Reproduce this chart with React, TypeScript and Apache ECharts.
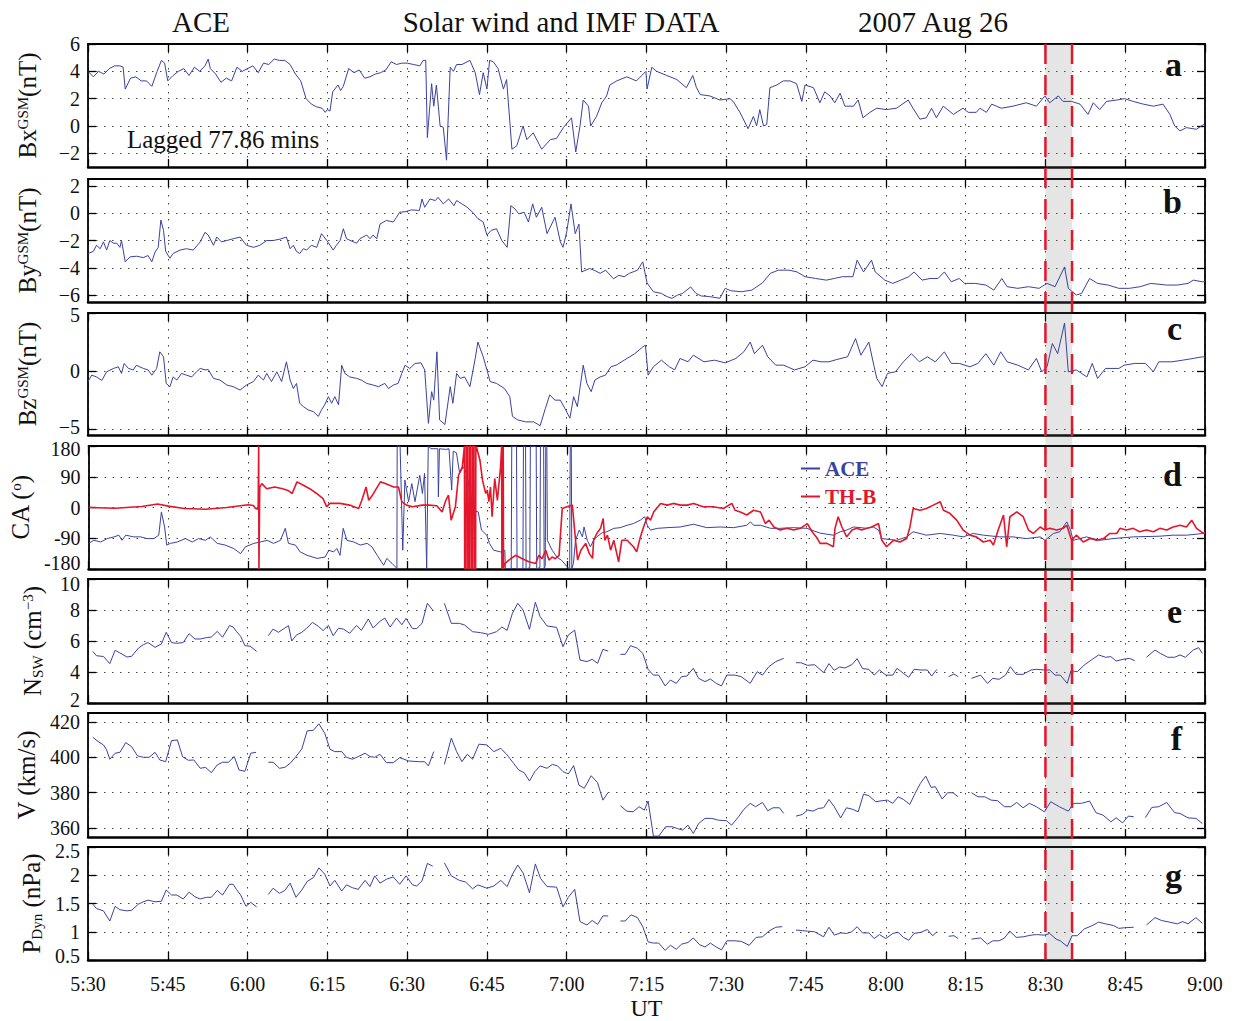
import React, { useEffect, useRef } from "react";
import * as echarts from "echarts";

const FONT = '"Liberation Serif", "Times New Roman", Times, serif';
const BLUE = "#3a42a0";
const RED = "#e3162b";
const INK = "#111111";

// x axis: minutes after 05:30 UT
const X_MIN = 0;
const X_MAX = 210;
const X_STEP = 15;
const shadedInterval = [180, 185]; // 08:30 - 08:35 UT

// tick values
const bxTicks = [-2, 0, 2, 4, 6];
const byTicks = [-6, -4, -2, 0, 2];
const bzTicks = [-5, 0, 5];
const caTicks = [-180, -90, 0, 90, 180];
const nTicks = [2, 4, 6, 8, 10];
const vTicks = [360, 380, 400, 420];
const pTicks = [0.5, 1, 1.5, 2, 2.5];

// ---- data: [minutes after 05:30, value] ----
const bxData = [[0,4.0],[1,3.6],[2,4.0],[3,3.8],[4,4.2],[5,4.4],[6,4.4],[6.6,4.3],[7,2.7],[8,3.5],[9,3.6],[10,3.3],[11,3.3],[12,2.9],[13,4.0],[13.8,4.8],[14.4,4.6],[15,3.3],[16,3.7],[17,4.0],[18,4.2],[19,3.7],[20,4.3],[21,4.0],[22,4.4],[22.6,4.9],[23,4.2],[24,3.8],[25,3.2],[26,3.5],[27,3.3],[28,4.3],[29,4.0],[30,4.2],[31,4.4],[32,3.9],[33,4.6],[34,4.5],[35,4.9],[36,4.8],[37,4.8],[38,4.5],[39,3.8],[40,3.3],[41,2.0],[42,1.6],[43,1.4],[44,1.3],[44.6,1.0],[45,1.2],[45.5,1.1],[46,2.5],[47,3.0],[47.5,2.6],[48,2.9],[49,4.2],[50,3.9],[51,4.1],[52,3.5],[53,3.6],[54,3.8],[55,3.9],[56,4.1],[57,4.7],[58,4.5],[59,4.6],[60,4.6],[61.2,4.5],[62.4,4.4],[63.0,4.8],[63.5,4.8],[63.8,-0.85],[64.6,3.1],[65.0,1.45],[65.5,3.0],[66.2,0],[66.8,-0.1],[67.4,-2.5],[68.1,4.3],[68.7,4.0],[69.3,4.5],[70.3,4.5],[71.8,4.8],[72.8,3.9],[73.6,2.3],[74.3,3.9],[75.0,2.7],[75.5,4.8],[76.2,4.7],[77.1,4.2],[78.1,2.7],[78.7,3.4],[79.7,-1.7],[80.6,-1.45],[81.8,0],[82.5,-1.0],[83.7,-0.5],[85.3,-1.7],[86.9,-1.0],[88.1,-0.9],[89.4,-0.1],[90.9,0.6],[91.7,-1.9],[92.5,0],[93.1,1.9],[94.1,1.45],[94.5,0],[95.6,0.7],[96.6,1.7],[97.5,2.2],[98.1,3.0],[99.4,3.3],[101.3,3.6],[103.1,3.3],[104.9,4.0],[105.1,2.7],[106.0,4.3],[106.9,4.0],[108.8,3.7],[110.7,3.4],[112.5,2.8],[113.7,3.7],[114.4,2.8],[115.1,2.3],[116.9,2.2],[118.8,1.9],[120.7,2.0],[121.3,1.8],[122.6,0.97],[124.1,-0.2],[125.1,0.7],[125.7,0],[126.3,1.2],[127.0,0],[127.6,0.1],[128.2,2.8],[129.5,3.0],[130.7,3.3],[132.0,3.3],[133.2,3.1],[134.2,1.8],[134.8,3.0],[136.4,2.8],[137.6,1.7],[138.5,2.5],[139.5,2.2],[140.4,1.7],[141.4,2.4],[142.3,1.45],[143.9,1.45],[144.8,1.9],[145.7,0.6],[147.0,1.0],[148.3,1.3],[150.1,1.2],[152.0,1.3],[154.2,1.9],[155.1,1.3],[156.4,0.5],[157.6,0.6],[158.6,1.3],[159.5,0.6],[160.8,1.45],[162.7,0.85],[164.5,1.3],[165.5,1.0],[167.0,1.0],[167.7,1.3],[168.9,1.0],[169.9,1.6],[171.7,1.3],[173.9,1.45],[176.4,1.7],[178.3,1.45],[179.9,2.2],[180.8,1.7],[182.4,2.2],[183.3,1.8],[184.9,1.8],[186.5,1.6],[188.0,0.85],[189.0,1.7],[190.2,1.2],[191.5,1.8],[193.4,1.9],[194.9,2.0],[196.5,1.8],[198.4,1.6],[200.3,1.45],[202.1,1.6],[203.4,0.85],[204.3,0],[205.3,-0.36],[206.5,-0.12],[208.4,-0.24],[209.7,0.1],[210,0]];

const byData = [[0,-2.95],[1.0,-2.8],[1.6,-2.35],[2.3,-2.6],[2.9,-2.1],[3.5,-2.7],[4.1,-2.0],[4.8,-2.2],[5.4,-2.2],[6.0,-2.5],[6.3,-2.0],[7.0,-3.56],[7.9,-3.2],[9.1,-3.15],[10.4,-3.25],[11.3,-3.1],[12.0,-3.56],[12.6,-2.85],[13.2,-2.5],[13.7,-0.5],[14.2,-1.26],[14.6,-2.8],[15.4,-3.3],[16.0,-2.95],[17.3,-2.7],[18.5,-2.6],[19.8,-2.7],[21.1,-2.1],[22.0,-1.4],[22.6,-1.6],[23.6,-2.35],[24.2,-1.75],[25.1,-2.1],[26.1,-2.0],[27.3,-1.87],[28.6,-1.75],[29.8,-2.35],[31.1,-2.5],[32.3,-2.35],[33.6,-2.0],[34.8,-2.0],[36.1,-1.9],[37.3,-1.75],[38.0,-2.6],[38.6,-2.35],[39.2,-2.8],[39.8,-2.95],[40.5,-2.6],[41.1,-2.7],[42.0,-2.35],[43.0,-2.5],[43.9,-1.5],[44.9,-2.0],[46.1,-2.7],[46.7,-2.35],[47.4,-2.0],[48.0,-1.14],[48.6,-1.87],[49.9,-2.1],[50.5,-2.2],[51.1,-1.87],[52.4,-1.6],[53.0,-1.87],[53.6,-1.6],[54.3,-1.87],[54.9,-0.8],[56.1,-0.53],[57.4,-0.65],[58.0,-0.3],[58.6,0.07],[59.6,0.1],[60.8,0.24],[62.3,0.2],[62.8,1.04],[63.3,0.43],[64.3,1.04],[65.3,0.92],[65.8,1.16],[66.8,0.68],[67.8,1.04],[68.8,0.55],[69.3,0.92],[70.3,0.68],[71.3,0.43],[72.3,0.07],[73.3,-0.4],[74.3,-0.65],[75.0,-1.6],[75.8,-1.26],[76.8,-1.14],[77.8,-2.0],[78.8,-2.5],[79.5,0.55],[80.3,0.3],[81.0,-0.05],[82.0,0.07],[82.8,-0.65],[83.6,0.68],[84.3,-0.3],[85.3,0.43],[86.3,-1.5],[87.8,-0.3],[88.8,-2.1],[89.3,-2.5],[90.0,-1.38],[90.8,0.68],[91.6,-1.5],[92.3,-0.8],[92.8,-4.3],[94.3,-4.05],[95.3,-4.2],[96.3,-4.4],[97.3,-4.17],[98.8,-4.8],[99.8,-4.55],[100.8,-4.65],[101.8,-4.4],[103.3,-4.17],[104.3,-3.56],[105.1,-5.1],[106.3,-5.75],[107.8,-5.87],[108.8,-6.1],[109.8,-6.23],[110.8,-6.0],[111.8,-5.87],[113.3,-5.4],[114.3,-5.87],[115.3,-6.06],[116.8,-6.1],[118.8,-6.23],[119.8,-5.5],[120.8,-5.67],[122.8,-5.75],[124.8,-5.63],[126.8,-5.1],[128.3,-4.4],[129.8,-4.17],[131.8,-4.17],[133.3,-4.3],[134.8,-4.65],[136.8,-4.78],[138.8,-4.9],[140.3,-4.78],[141.8,-4.65],[143.8,-4.65],[144.6,-3.44],[145.8,-4.3],[147.3,-3.44],[148.0,-4.3],[149.8,-4.9],[151.3,-5.14],[152.8,-4.9],[154.3,-4.65],[155.3,-4.3],[156.8,-4.9],[158.3,-4.78],[159.8,-4.78],[161.0,-4.3],[162.3,-5.02],[163.8,-4.78],[164.8,-5.14],[166.8,-5.14],[168.8,-5.26],[170.3,-5.63],[171.8,-4.78],[172.8,-5.38],[174.8,-5.5],[176.8,-5.38],[178.8,-5.5],[180.3,-5.14],[181.8,-5.38],[183.6,-3.93],[184.3,-5.5],[185.8,-5.99],[186.8,-5.87],[188.3,-4.78],[189.8,-5.14],[191.8,-5.26],[193.8,-5.5],[195.8,-5.5],[197.8,-5.38],[199.8,-5.14],[202.8,-5.26],[204.8,-5.26],[206.8,-5.14],[207.8,-4.9],[209.5,-5.02],[210,-5.0]];

const bzData = [[0,-0.9],[0.7,-0.35],[1.6,-0.5],[2.6,-0.8],[3.5,-0.06],[4.8,0.23],[5.7,0.37],[6.3,-0.2],[6.8,0.66],[7.6,0.23],[8.5,0.1],[9.1,0.5],[10.4,0.23],[11.3,0.1],[12.0,-0.35],[12.9,0.23],[13.5,1.66],[14.2,1.23],[14.7,-1.06],[15.4,-1.34],[16.0,-0.5],[16.7,-0.77],[17.6,-0.2],[18.5,-0.35],[19.5,-0.5],[20.4,-0.06],[21.1,0.23],[22.0,0.1],[22.6,0.14],[23.6,-0.63],[24.8,-0.77],[26.1,-1.2],[27.3,-1.34],[28.6,-1.63],[29.8,-1.2],[31.1,-0.9],[32.0,-0.35],[33.0,-0.77],[33.6,-0.2],[34.5,-0.9],[35.5,-0.06],[36.4,-0.9],[37.3,0.8],[38.0,-0.77],[38.6,-1.5],[39.2,-1.06],[39.8,-2.77],[40.5,-3.06],[41.4,-3.34],[42.4,-3.5],[43.3,-3.9],[43.9,-3.34],[44.5,-2.9],[45.2,-2.2],[45.8,-2.77],[46.4,-2.2],[47.1,-2.9],[47.7,0.5],[48.3,-0.2],[49.2,-0.5],[50.5,-0.63],[51.4,-0.77],[52.4,-1.06],[53.6,-1.2],[54.6,-1.34],[55.8,-1.06],[56.5,-1.5],[57.4,-1.2],[58.3,-1.06],[59.0,-0.2],[59.6,0.5],[60.5,0.23],[61.5,0.66],[62.6,0.71],[63.3,0.1],[64.0,-4.5],[64.6,-1.77],[65.0,-2.5],[65.6,1.66],[66.1,-4.2],[67.1,-4.6],[68.1,-1.34],[68.6,-2.77],[69.3,-0.2],[70.0,-0.63],[70.8,-0.5],[71.8,-1.34],[72.8,1.09],[73.3,2.5],[74.3,1.23],[75.0,0.1],[75.6,-0.9],[76.8,-1.06],[78.3,-1.5],[79.3,-2.2],[79.8,-3.9],[80.8,-4.2],[82.3,-4.37],[83.8,-4.37],[85.0,-4.7],[86.0,-3.2],[86.8,-2.05],[87.8,-2.5],[88.8,-2.5],[89.8,-3.34],[90.6,-4.05],[91.3,-2.2],[92.0,-3.06],[93.1,0.51],[93.8,-1.06],[94.6,-1.77],[95.3,-0.77],[96.3,-0.5],[97.3,-0.35],[98.3,0.37],[99.3,0.51],[100.8,0.94],[102.8,1.5],[104.3,2.08],[104.8,2.23],[105.3,-0.35],[106.3,0.37],[107.8,0.94],[109.3,0.37],[110.3,0.1],[111.3,1.09],[112.8,0.8],[113.8,1.37],[115.8,0.8],[117.8,0.94],[119.8,0.71],[121.8,1.09],[123.3,1.66],[124.5,2.5],[125.3,1.5],[126.8,2.23],[127.8,1.23],[129.3,0.51],[130.8,0.51],[132.8,0.1],[134.8,0.37],[136.3,0.94],[137.8,0.8],[139.3,0.8],[140.8,1.0],[142.8,1.23],[144.3,2.8],[145.3,1.37],[146.8,2.5],[147.8,0.37],[148.3,-0.63],[149.3,-1.34],[150.3,-0.2],[151.8,-0.06],[153.3,0.8],[154.8,1.5],[156.3,0.8],[157.8,1.23],[159.3,0.8],[161.0,1.66],[162.3,0.66],[163.8,0.66],[165.8,0.37],[167.3,0.66],[168.8,1.5],[170.3,0.51],[171.6,1.66],[172.8,0.8],[174.8,0.51],[176.8,0.1],[178.3,1.09],[179.3,-0.06],[180.3,0.37],[181.3,2.37],[182.3,1.5],[183.6,4.14],[184.3,-0.06],[185.8,0.1],[187.8,-0.5],[188.8,0.66],[189.8,-0.63],[191.3,0.23],[193.8,0.23],[194.8,0.51],[196.8,0.66],[198.8,0.66],[200.3,-0.06],[201.3,0.8],[203.8,0.8],[205.8,0.94],[207.8,1.09],[209.5,1.23],[210,1.2]];

const caAceData = [[0,-105],[1,-96],[2.3,-101],[3.5,-91],[4.8,-86],[5.7,-81],[6.3,-96],[7,-81],[8.5,-86],[9.8,-86],[11,-91],[12.3,-91],[13.2,-81],[13.7,-13],[14.3,-57],[14.7,-110],[15.4,-105],[16.7,-101],[18.2,-91],[19.5,-101],[20.7,-91],[22,-96],[22.9,-86],[24.2,-105],[25.7,-110],[27.3,-120],[28.6,-135],[29.5,-115],[31.1,-105],[32.3,-101],[33.6,-96],[34.8,-105],[36.1,-96],[37.0,-61],[37.6,-105],[38.9,-110],[39.8,-130],[41.1,-140],[43,-149],[44.5,-145],[45.2,-125],[46.1,-130],[46.7,-120],[47.3,-140],[47.9,-61],[48.6,-96],[49.9,-101],[51.1,-110],[52.4,-105],[53.3,-115],[54.3,-140],[55.5,-169],[56.1,-149],[57.1,-164],[58.0,-178],[58.05,180],[58.6,180],[59.1,-125],[59.5,80],[60.2,17],[60.8,70],[61.4,17],[62.3,94],[62.8,41],[63.2,100],[63.6,-180],[63.9,180],[64.4,172],[65.7,172],[65.8,31],[66.0,172],[67.2,170],[67.8,172],[68.3,51],[68.6,165],[69.2,160],[69.8,100],[70.5,119],[71.1,100],[72.4,-8],[73.3,-13],[73.9,-66],[74.9,-81],[75.4,-105],[76.2,-125],[77.5,-130],[78.3,-125],[78.4,-180],[79.5,-178],[79.6,180],[80.5,178],[80.6,-180],[81.7,-178],[81.8,180],[82.2,178],[82.3,-180],[83.0,-176],[83.1,180],[84.2,178],[84.3,-180],[84.9,-175],[85.0,180],[85.6,178],[85.7,-180],[85.9,-170],[86.0,180],[86.2,175],[86.3,-96],[87.2,-125],[88.1,-145],[89,-155],[90.3,-178],[90.5,-180],[90.6,180],[90.8,180],[90.9,-180],[91.2,-164],[91.6,-96],[92.3,-66],[92.9,-86],[93.2,-57],[93.8,-96],[94.4,-115],[95.0,-96],[95.6,-86],[96.6,-74],[97.5,-71],[98.8,-61],[100,-59],[101.3,-52],[102.5,-47],[103.8,-37],[104.6,-27],[105.1,-52],[105.7,-66],[107,-61],[108.8,-59],[111.3,-57],[113.8,-49],[116.3,-59],[118.8,-57],[121.3,-59],[123.8,-52],[124.5,-42],[125.1,-52],[126.4,-52],[128.3,-61],[130.1,-61],[132.6,-59],[135.1,-61],[137.6,-75],[140.1,-81],[141.4,-71],[142.6,-66],[143.9,-57],[146.4,-61],[147.6,-57],[148.6,-66],[149.2,-91],[152.0,-96],[153.9,-86],[155.1,-71],[157.6,-81],[160.2,-76],[162.7,-81],[164.5,-86],[166.4,-76],[168.3,-81],[171.4,-86],[173.9,-86],[176.4,-91],[179.0,-86],[179.9,-96],[181.5,-76],[182.7,-71],[184.0,-42],[184.7,-66],[185.2,-96],[187.7,-86],[190.2,-96],[192.7,-91],[196.5,-86],[201.5,-84],[204.0,-81],[206.5,-81],[209.7,-76],[210,-76]];

const caThbData = [[0,0],[5,-2],[10,3],[13,10],[15,4],[18,-3],[22,-5],[26,0],[30,8],[31,6],[31.4,-3],[31.9,-5],[32.0,180],[32.05,-180],[32.2,60],[32.6,70],[33.5,55],[35,60],[36.5,55],[37.5,50],[38.3,41],[39.2,75],[40.4,65],[41.6,55],[42.9,41],[44.1,26],[44.8,2],[45.4,12],[47.3,12],[49.1,7],[50.8,-3],[51.4,21],[52.2,60],[52.7,21],[53.4,36],[54.9,75],[55.8,70],[57.4,60],[58.3,60],[58.9,17],[59.8,7],[60.9,2],[62.8,7],[64,7],[65.5,5],[66.5,-13],[67.2,21],[67.7,36],[68.2,-37],[69.0,2],[69.6,95],[70.3,119],[70.7,180],[70.75,-180],[71.0,-180],[71.05,180],[71.3,180],[71.35,-180],[71.6,-180],[71.65,180],[71.9,180],[71.95,-180],[72.2,-180],[72.25,180],[72.5,180],[72.55,-180],[72.8,-180],[72.85,180],[73.0,175],[73.2,163],[73.6,140],[74.1,80],[74.7,41],[75.0,51],[75.3,17],[75.6,60],[75.9,-27],[76.4,85],[76.9,21],[77.5,119],[77.7,180],[77.75,-180],[77.9,-170],[78.0,178],[78.05,-178],[78.3,-164],[79.4,-150],[80.3,-140],[81.6,-150],[82.8,-159],[84.1,-164],[84.7,-140],[85.3,-150],[86.0,-125],[86.6,-154],[87.2,-145],[87.8,-150],[88.5,-140],[89.1,-3],[90.0,2],[91.0,7],[91.6,-96],[92.0,-154],[92.6,-125],[93.5,-105],[94.2,-135],[94.8,-149],[95.0,-96],[95.6,-76],[96.3,-61],[96.8,-32],[97.1,-96],[97.6,-81],[98.2,-125],[98.8,-96],[99.7,-159],[100.3,-96],[101.3,-96],[102.5,-115],[103.1,-130],[103.8,-86],[104.4,-57],[105.1,-27],[105.7,-37],[106.3,-13],[107.6,12],[108.8,7],[110.0,12],[111.3,7],[112.6,7],[113.8,12],[115.6,2],[117.5,2],[119.4,-3],[121.0,12],[121.6,-8],[122.6,-13],[123.8,-22],[125.1,-8],[126.4,-13],[127.3,-47],[128.0,-37],[128.9,-57],[130.1,-66],[131.4,-61],[132.6,-66],[133.9,-61],[135.2,-47],[136.1,-71],[137.1,-91],[137.6,-105],[138.9,-105],[140.1,-115],[140.4,-61],[141.0,-27],[141.7,-57],[142.6,-86],[143.6,-66],[144.5,-61],[145.4,-66],[146.4,-61],[147.3,-57],[148.6,-47],[149.2,-96],[150.1,-115],[151.4,-96],[152.6,-101],[153.9,-91],[154.5,-57],[155.1,-3],[156.4,-8],[157.6,-3],[158.9,7],[160.2,17],[160.8,-8],[162.0,-17],[163.3,-37],[164.5,-66],[165.8,-81],[167.0,-86],[168.3,-101],[169.6,-96],[170.2,-110],[171.1,-66],[172.1,-22],[172.7,-115],[173.3,-27],[174.6,-13],[175.8,-27],[176.8,-66],[177.7,-76],[179.0,-57],[179.9,-66],[180.8,-61],[182.1,-66],[183.3,-61],[184.0,-52],[184.9,-96],[185.8,-81],[187.1,-101],[188.4,-91],[189.6,-96],[190.9,-91],[192.1,-76],[193.4,-76],[194.0,-61],[195.2,-66],[196.5,-61],[197.7,-71],[199.0,-66],[200.3,-71],[201.5,-61],[202.8,-66],[204.0,-57],[205.3,-52],[206.5,-57],[207.5,-37],[208.4,-61],[209.7,-76],[210,-72]];

const nswData = [[0.9,5.33],[1.6,5.05],[2.9,5.0],[4.1,4.54],[5.1,5.4],[6.0,5.23],[7.3,4.97],[8.2,5.01],[9.5,5.55],[10.4,5.76],[11.3,5.9],[12.6,5.59],[13.8,5.81],[14.7,6.56],[15.7,5.9],[16.7,5.85],[17.9,5.9],[19.0,6.47],[20.1,6.13],[21.1,6.13],[22.3,6.22],[23.2,6.26],[24.3,6.62],[25.3,6.24],[26.6,7.0],[27.3,6.9],[27.9,6.62],[28.7,6.3],[29.5,5.7],[30.5,5.66],[31.7,5.33],[32.8,null],[33.9,6.34],[34.8,6.77],[35.8,6.56],[36.7,6.77],[37.7,6.99],[38.3,6.0],[39.2,6.39],[40.2,6.56],[41.1,6.82],[42.2,7.2],[43.3,6.95],[44.2,6.67],[45.2,7.01],[46.1,6.34],[47.1,6.82],[48.0,6.77],[49.2,6.5],[50.5,7.01],[51.4,6.69],[52.7,7.42],[53.6,6.84],[54.9,7.27],[55.8,7.48],[56.8,6.9],[58.0,7.48],[59.0,7.05],[59.8,7.46],[61.0,6.8],[61.8,6.8],[62.8,7.14],[63.8,8.43],[64.8,8.0],[65.9,null],[67.0,8.43],[68.3,7.14],[69.8,7.14],[70.8,7.03],[72.3,6.6],[73.8,6.54],[75.3,6.43],[76.8,6.6],[77.8,6.9],[78.8,6.69],[79.8,7.8],[80.8,8.43],[81.8,8.0],[83.0,6.75],[84.1,8.5],[85.0,7.57],[86.3,6.97],[88.1,6.88],[89.3,5.63],[90.3,6.39],[91.5,6.7],[92.5,4.77],[93.8,4.67],[94.8,4.82],[95.8,4.56],[96.8,5.46],[97.8,5.35],[99.0,null],[100.1,5.14],[101.0,5.14],[102.0,5.7],[103.3,5.53],[104.3,5.2],[105.3,4.17],[106.3,3.8],[107.3,3.8],[108.5,3.1],[109.5,3.48],[110.6,3.27],[111.6,3.7],[112.6,3.74],[113.8,4.24],[114.8,3.59],[116.0,3.38],[117.0,3.55],[118.1,3.27],[119.1,3.1],[120.1,3.8],[121.6,3.8],[122.8,3.7],[124.5,3.27],[125.8,4.02],[126.8,3.8],[128.0,4.34],[129.3,4.67],[130.8,4.88],[132.0,null],[133.1,4.6],[134.0,4.6],[135.3,4.43],[136.6,4.47],[138.3,3.96],[139.3,4.54],[140.3,4.11],[141.3,4.32],[142.3,4.26],[143.6,4.47],[144.6,4.86],[145.6,4.22],[146.8,4.17],[147.8,3.8],[148.8,4.13],[150.0,3.8],[151.3,3.8],[152.1,4.24],[153.3,3.91],[154.3,3.66],[155.3,4.17],[156.6,4.13],[157.8,4.13],[158.6,3.74],[159.6,4.17],[160.7,null],[161.8,3.7],[162.8,3.87],[163.6,3.7],[164.8,null],[166.1,3.59],[167.8,3.8],[169.1,3.27],[170.1,3.59],[171.3,3.53],[172.5,3.8],[173.4,4.34],[174.5,3.85],[175.8,3.85],[177.3,4.13],[178.3,4.17],[179.8,4.13],[180.8,4.13],[181.8,3.8],[182.8,3.8],[184.1,3.27],[184.8,4.08],[186.0,4.02],[187.3,4.45],[188.6,4.77],[190.0,5.1],[191.3,4.95],[192.3,4.99],[193.3,4.71],[194.6,4.82],[195.8,4.88],[196.8,4.73],[197.9,null],[199.0,4.95],[200.6,5.42],[201.6,5.2],[203.0,4.95],[204.3,4.95],[205.3,5.1],[206.3,4.95],[207.8,5.42],[208.8,5.57],[209.5,5.2]];

const vData = [[0.9,411.3],[1.9,408.9],[2.9,407],[3.5,404.2],[4.1,398.9],[5.1,402.3],[6.0,402.8],[7.1,408.3],[8.2,406.0],[9.3,400.8],[10.4,400.0],[11.5,400.0],[12.6,402.8],[13.5,398.5],[14.6,397.5],[15.7,409.4],[16.8,409.8],[17.8,400.2],[18.9,398.3],[19.9,398.5],[21.1,393.8],[22.1,394.3],[23.2,391.3],[24.3,395.7],[25.3,397.2],[26.4,397.2],[27.5,400.4],[28.4,392.8],[29.5,392.1],[30.6,402.3],[31.6,402.8],[32.8,null],[33.9,397.2],[34.8,397.2],[36.0,393.8],[37.0,394.3],[38.0,396.6],[39.1,400.4],[40.2,404.7],[41.2,414.9],[42.4,415.3],[43.4,418.9],[44.5,413.6],[45.5,404.5],[46.4,403.2],[47.7,403.2],[48.6,400],[49.7,398.9],[50.8,400.4],[52.1,402.3],[53.0,400.4],[53.9,400],[54.9,401.7],[56.1,397.0],[57.4,397.0],[58.6,399.8],[60.3,397.9],[62.3,397.5],[63.3,397.5],[64.0,395.1],[65.0,403.2],[66.0,null],[67.0,396.0],[68.3,410.8],[69.3,403.2],[70.3,397.5],[71.3,401.7],[72.3,398.9],[73.5,407.4],[75.0,407.0],[76.3,403.2],[77.6,405.1],[78.8,401.3],[80.0,396.6],[81.0,392.8],[82.0,391.3],[83.0,386.6],[84.0,391.9],[85.0,395.1],[86.3,393.8],[87.3,396.0],[88.3,395.1],[89.3,391.9],[90.3,390.6],[91.3,395.3],[92.3,384.3],[93.3,382.5],[94.6,389.6],[95.8,385.7],[96.8,375.8],[97.8,380.2],[99.0,null],[100.1,372.6],[101.3,369.6],[102.5,369.2],[103.6,372.1],[104.6,370.2],[105.3,375.3],[106.3,355.5],[107.3,355.5],[108.6,360.8],[109.8,360.8],[110.8,359.8],[111.8,358.9],[112.8,361.7],[113.8,357.0],[114.8,362.6],[116.0,365.5],[117.3,365.5],[118.5,364.5],[120.0,364.2],[121.0,361.7],[122.3,366.4],[123.3,370.6],[124.5,374.0],[125.5,372.1],[126.8,374.5],[127.8,369.8],[128.8,371.5],[130.0,371.5],[130.8,368.3],[132.0,null],[133.1,366.8],[134.3,367.7],[135.3,370.2],[136.3,369.6],[137.3,371.1],[138.3,371.5],[139.3,376.2],[140.3,372.1],[141.5,365.8],[142.6,371.5],[143.8,370.6],[144.8,369.2],[145.8,379.2],[146.8,378.3],[148.1,374.9],[149.3,375.5],[150.3,375.8],[151.3,374.0],[152.3,377.7],[153.3,376.2],[154.5,373.4],[155.5,379.6],[156.5,385.3],[157.5,389.4],[158.5,383.0],[159.3,383.4],[160.6,376.4],[161.6,380.0],[162.6,380.0],[163.6,377.7],[164.8,null],[166.1,380.0],[167.3,377.7],[168.6,377.7],[169.8,375.8],[171.0,375.5],[172.3,372.1],[173.5,372.1],[174.6,374.5],[175.8,371.5],[177.0,374.0],[178.3,372.1],[179.8,369.2],[181.0,374.9],[182.6,372.1],[184.3,369.6],[185.3,374.0],[186.8,374.0],[188.3,375.3],[189.5,368.7],[190.8,367.4],[192.3,363.6],[193.3,365.8],[194.5,363.0],[195.6,366.8],[196.6,366.4],[197.7,null],[198.8,366.0],[200.0,371.7],[201.3,372.1],[202.8,374.5],[204.3,368.7],[205.3,368.3],[206.8,365.8],[208.3,365.5],[209.5,362.6]];

const pdynData = [[0.9,1.49],[1.6,1.41],[2.9,1.37],[4.1,1.19],[5.1,1.45],[6.0,1.39],[7.3,1.37],[8.2,1.38],[9.5,1.49],[10.4,1.53],[11.3,1.56],[12.6,1.53],[13.8,1.54],[14.7,1.74],[15.7,1.65],[16.7,1.65],[17.9,1.58],[19.0,1.70],[20.1,1.62],[21.1,1.58],[22.3,1.61],[23.2,1.61],[24.3,1.73],[25.3,1.65],[26.6,1.84],[27.3,1.84],[27.9,1.75],[28.7,1.65],[29.7,1.45],[30.6,1.52],[31.7,1.44],[32.8,null],[33.9,1.66],[34.8,1.77],[36.0,1.68],[37.0,1.73],[38.0,1.86],[39.1,1.61],[40.2,1.74],[41.2,1.89],[42.4,1.96],[43.4,2.13],[44.5,2.02],[45.5,1.81],[46.4,1.91],[47.7,1.72],[48.6,1.83],[49.7,1.78],[50.8,1.75],[52.1,1.91],[53.0,1.80],[53.9,1.99],[54.9,1.86],[56.1,1.93],[57.4,1.97],[58.6,1.84],[59.8,1.99],[61.0,1.83],[61.8,1.81],[62.8,1.90],[63.8,2.21],[64.8,2.16],[65.9,null],[67.0,2.22],[68.3,1.99],[69.8,1.91],[71.0,1.88],[72.3,1.76],[73.3,1.83],[75.0,1.77],[76.3,1.81],[77.6,1.91],[78.8,1.80],[79.8,2.02],[80.8,2.18],[81.8,2.04],[83.0,1.69],[84.1,2.20],[85.1,1.94],[86.3,1.80],[88.1,1.79],[89.3,1.44],[90.3,1.61],[91.5,1.75],[92.5,1.18],[93.8,1.12],[94.8,1.20],[95.8,1.13],[96.8,1.28],[97.8,1.28],[99.0,null],[100.1,1.19],[101.0,1.19],[102.1,1.30],[103.3,1.25],[104.3,1.09],[105.3,0.82],[106.3,0.80],[107.3,0.80],[108.5,0.67],[109.5,0.76],[110.6,0.69],[111.6,0.78],[112.8,0.81],[113.8,0.89],[115.0,0.77],[116.0,0.73],[117.0,0.80],[118.1,0.73],[119.1,0.68],[120.1,0.84],[121.6,0.84],[122.8,0.83],[124.3,0.76],[125.6,0.90],[126.8,0.91],[128.0,1.01],[129.3,1.08],[130.5,1.09],[132.0,null],[133.1,1.03],[134.3,1.02],[135.3,1.01],[136.6,1.00],[138.3,0.91],[139.3,1.08],[140.3,0.94],[141.5,0.98],[142.6,0.97],[143.6,1.00],[144.6,1.09],[145.6,0.98],[146.8,0.98],[147.8,0.88],[148.8,0.95],[150.0,0.88],[151.3,0.97],[152.3,0.99],[153.3,0.90],[154.3,0.85],[155.3,0.97],[156.6,0.99],[157.8,1.04],[158.8,0.93],[159.6,1.00],[160.7,null],[161.8,0.92],[162.8,0.93],[163.6,0.88],[164.8,null],[166.1,0.87],[167.8,0.89],[169.1,0.78],[170.1,0.84],[171.3,0.84],[172.3,0.89],[173.3,1.01],[174.5,0.90],[175.8,0.91],[177.3,0.94],[178.3,0.95],[179.8,0.94],[180.8,0.97],[182.0,0.87],[182.8,0.84],[184.1,0.74],[185.0,0.93],[186.0,0.93],[187.3,1.05],[188.6,1.10],[190.0,1.17],[191.3,1.14],[192.8,1.11],[193.8,1.06],[194.8,1.07],[196.6,1.08],[197.9,null],[199.0,1.12],[200.6,1.25],[201.8,1.20],[203.3,1.17],[204.8,1.14],[205.8,1.18],[206.8,1.14],[208.3,1.25],[209.5,1.15]];

// ---- layout ----
const GRID_LEFT = 88;
const GRID_RIGHT = 32;
const GRID_TOPS = [44, 179, 313, 446, 579, 713, 847];
const GRID_HEIGHTS = [123, 123, 122, 123, 124, 124, 123];
const LETTER_Y = [64, 201, 328, 474, 611, 738, 875];

// per-panel vertical nudges (px, + = down) of the end tick labels, as drawn in the reference
const PANELS: any[] = [
  { letter: "a", min: -3, max: 6, ticks: bxTicks, name: "{n|Bx}{sup|GSM}{n|(nT)}", gap: 48, minus: true, nudge: {} },
  { letter: "b", min: -6.5, max: 2.5, ticks: byTicks, name: "{n|By}{sup|GSM}{n|(nT)}", gap: 48, minus: true, nudge: {} },
  { letter: "c", min: -5.5, max: 5, ticks: bzTicks, name: "{n|Bz}{sup|GSM}{n|(nT)}", gap: 48, minus: true, nudge: { "5": 2, "-5": -2 } },
  { letter: "d", min: -180, max: 180, ticks: caTicks, name: "{n|CA (}{sup|o}{n|)}", gap: 48, minus: false, nudge: { "180": 3, "-180": -6 } },
  { letter: "e", min: 2, max: 10, ticks: nTicks, name: "{nt|N}{sub|SW}{nt| (cm}{sup|−3}{nt|)}", gap: 43, minus: false, nudge: { "10": 5, "2": -3 } },
  { letter: "f", min: 355, max: 425, ticks: vTicks, name: "{n|V (km/s)}", gap: 49, minus: false, nudge: {} },
  { letter: "g", min: 0.5, max: 2.5, ticks: pTicks, name: "{nt|P}{sub|Dyn}{nt| (nPa)}", gap: 44, minus: false, nudge: { "2.5": 4, "0.5": -4 } },
];

const fmtTime = (v: number) => {
  const m = 330 + Math.round(v);
  return `${Math.floor(m / 60)}:${String(m % 60).padStart(2, "0")}`;
};

const big = { fontFamily: FONT, fontSize: 25, lineHeight: 25, color: INK };
const smallF = { fontFamily: FONT, fontSize: 15, lineHeight: 15, color: INK };
const nameRich = {
  n: { ...big },
  nt: { ...big, verticalAlign: "top" },
  sup: { ...smallF, padding: [0, 0, 10, 0], verticalAlign: "top" },
  sub: { ...smallF, padding: [16, 0, 0, 0], verticalAlign: "bottom" },
};

const tickFont = { fontFamily: FONT, fontSize: 20, color: INK };
const labelRich: any = {
  u2: { ...tickFont, padding: [0, 0, 4, 0] },
  u3: { ...tickFont, padding: [0, 0, 6, 0] },
  u4: { ...tickFont, padding: [0, 0, 8, 0] },
  u6: { ...tickFont, padding: [0, 0, 12, 0] },
  d2: { ...tickFont, padding: [4, 0, 0, 0] },
  d3: { ...tickFont, padding: [6, 0, 0, 0] },
  d4: { ...tickFont, padding: [8, 0, 0, 0] },
  d5: { ...tickFont, padding: [10, 0, 0, 0] },
};

const dotted = { color: "#444", width: 1, type: [1.5, 6.5] };

function buildOption() {
  const grid: any[] = [];
  const xAxis: any[] = [];
  const yAxis: any[] = [];
  PANELS.forEach((p, i) => {
    grid.push({ left: GRID_LEFT, right: GRID_RIGHT, top: GRID_TOPS[i], height: GRID_HEIGHTS[i], containLabel: false });
    const last = i === PANELS.length - 1;
    xAxis.push({
      type: "value", gridIndex: i, min: X_MIN, max: X_MAX, interval: X_STEP, position: "bottom",
      axisLine: { show: true, onZero: false, lineStyle: { color: "#000", width: 2.5 } },
      axisTick: { show: true, inside: true, length: 8, lineStyle: { color: "#000", width: 1.3 } },
      axisLabel: { show: last, formatter: fmtTime, ...tickFont, margin: 14 },
      splitLine: { show: true, lineStyle: dotted },
      name: last ? "UT" : "", nameLocation: "middle", nameGap: 36,
      nameTextStyle: { fontFamily: FONT, fontSize: 24, color: INK },
    });
    xAxis.push({
      type: "value", gridIndex: i, min: X_MIN, max: X_MAX, interval: X_STEP, position: "top",
      axisLine: { show: true, onZero: false, lineStyle: { color: "#000", width: 1.8 } },
      axisTick: { show: true, inside: true, length: 8, lineStyle: { color: "#000", width: 1.3 } },
      axisLabel: { show: false }, splitLine: { show: false },
    });
    yAxis.push({
      type: "value", gridIndex: i, min: p.min, max: p.max, position: "left",
      axisLine: { show: true, onZero: false, lineStyle: { color: "#000", width: 1.8 } },
      axisTick: { show: true, inside: true, length: 8, customValues: p.ticks, lineStyle: { color: "#000", width: 1.3 } },
      axisLabel: {
        customValues: p.ticks, ...tickFont, margin: 8, rich: labelRich,
        formatter: (v: number) => {
          const s = p.minus ? String(v).replace("-", "\u2212") : String(v);
          const n = p.nudge[String(v)];
          if (!n) return s;
          return `{${n > 0 ? "d" : "u"}${Math.abs(n)}|${s}}`;
        },
      },
      splitLine: { show: true, lineStyle: dotted },
      name: p.name, nameLocation: "middle", nameRotate: 90, nameGap: p.gap,
      nameTextStyle: { fontFamily: FONT, fontSize: 25, color: INK, rich: nameRich },
    });
    yAxis.push({
      type: "value", gridIndex: i, min: p.min, max: p.max, position: "right",
      axisLine: { show: true, onZero: false, lineStyle: { color: "#000", width: 1.8 } },
      axisTick: { show: true, inside: true, length: 8, customValues: p.ticks, lineStyle: { color: "#000", width: 1.3 } },
      axisLabel: { show: false }, splitLine: { show: false },
    });
  });

  const line = (name: string, idx: number, data: any[], color: string, width: number, z = 2) => ({
    type: "line", name, xAxisIndex: idx * 2, yAxisIndex: idx * 2, data,
    showSymbol: false, symbol: "none", connectNulls: false, silent: true, z,
    lineStyle: { color, width }, itemStyle: { color },
  });

  const series = [
    line("Bx", 0, bxData, BLUE, 1),
    line("By", 1, byData, BLUE, 1),
    line("Bz", 2, bzData, BLUE, 1),
    line("ACE", 3, caAceData, BLUE, 1),
    line("TH-B", 3, caThbData, RED, 1.6, 3),
    line("Nsw", 4, nswData, BLUE, 1),
    line("V", 5, vData, BLUE, 1),
    line("Pdyn", 6, pdynData, BLUE, 1),
  ];

  return {
    animation: false,
    backgroundColor: "#ffffff",
    textStyle: { fontFamily: FONT },
    grid, xAxis, yAxis, series,
    legend: {
      orient: "vertical", left: 796, top: 453, itemWidth: 19, itemHeight: 2, itemGap: 7,
      icon: "rect", selectedMode: false,
      textStyle: { fontFamily: FONT, fontWeight: "bold", fontSize: 21 },
      data: [
        { name: "ACE", textStyle: { color: BLUE } },
        { name: "TH-B", textStyle: { color: RED } },
      ],
    },
  };
}

const txt = (x: number, y: number, text: string, size: number, extra: any = {}) => ({
  type: "text", x, y, silent: true, z: 20,
  style: { text, fontFamily: FONT, fontSize: size, fill: INK, align: "center", verticalAlign: "middle", ...extra },
});

export default function App() {
  const ref = useRef<HTMLDivElement>(null);
  useEffect(() => {
    const chart = echarts.init(ref.current as HTMLDivElement, null, { renderer: "svg" });
    chart.setOption(buildOption() as any);

    const xa = chart.convertToPixel({ xAxisIndex: 0 } as any, shadedInterval[0]) as number;
    const xb = chart.convertToPixel({ xAxisIndex: 0 } as any, shadedInterval[1]) as number;
    const yTop = chart.convertToPixel({ yAxisIndex: 0 } as any, PANELS[0].max) as number;
    const yBot = chart.convertToPixel({ yAxisIndex: 12 } as any, PANELS[6].min) as number;

    const elements: any[] = [
      txt(201, 22, "ACE", 29),
      txt(561, 22, "Solar wind and IMF DATA", 29),
      txt(933, 22, "2007 Aug 26", 29),
      txt(127, 139, "Lagged 77.86 mins", 25, { align: "left" }),
      ...PANELS.map((p, i) => txt(1182, LETTER_Y[i], p.letter, 34, { align: "right", fontWeight: "bold" })),
      {
        type: "rect", silent: true, z: 1,
        shape: { x: xa, y: yTop, width: xb - xa, height: yBot - yTop },
        style: { fill: "rgba(110,110,110,0.18)" },
      },
      {
        type: "line", silent: true, z: 15,
        shape: { x1: xa, y1: yTop, x2: xa, y2: yBot },
        style: { stroke: RED, lineWidth: 2.5, lineDash: [20, 11] },
      },
      {
        type: "line", silent: true, z: 15,
        shape: { x1: xb, y1: yTop, x2: xb, y2: yBot },
        style: { stroke: RED, lineWidth: 2.5, lineDash: [20, 11] },
      },
    ];
    chart.setOption({ graphic: { elements } } as any);
    return () => chart.dispose();
  }, []);
  return (
    <div
      ref={ref}
      style={{ position: "fixed", left: 0, top: 0, width: 1237, height: 1021, background: "#fff" }}
    />
  );
}
